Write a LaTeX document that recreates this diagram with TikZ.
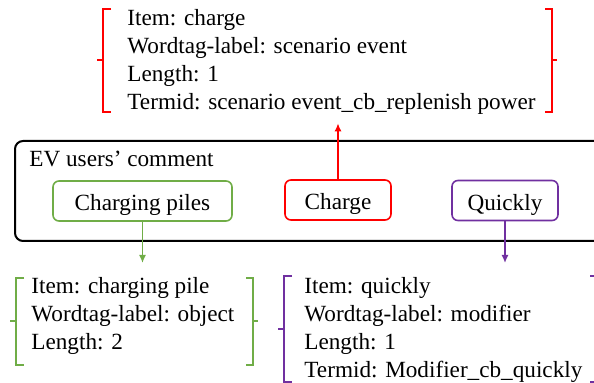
\documentclass[tikz,border=0pt]{standalone}
\usepackage{fontspec}
\setmainfont{Liberation Serif}
\usetikzlibrary{arrows.meta,positioning,calc}
\definecolor{tagred}{HTML}{FF0000}
\definecolor{taggreen}{HTML}{70AD47}
\definecolor{tagpurple}{HTML}{7030A0}
% square brackets round a term entry: colour, left x, right x, top y, bottom y
\newcommand{\infobrackets}[5]{%
  \draw[brk,#1] (#2+8,#4) -- (#2,#4) -- (#2,#5) -- (#2+8,#5)
    (#2,{(#4+#5)/2}) -- (#2-6,{(#4+#5)/2});
  \draw[brk,#1] (#3-7,#4) -- (#3,#4) -- (#3,#5) -- (#3-7,#5)
    (#3,{(#4+#5)/2}) -- (#3+5,{(#4+#5)/2});
}

\begin{document}
\begin{tikzpicture}[
  x=0.5pt, y=-0.5pt,
  txt/.style={font=\fontsize{11.6}{14}\selectfont, inner sep=0pt},
  info/.style={txt, align=left, anchor=north west},
  word/.style={txt, draw, text=black, rounded corners=3pt, line width=0.8pt,
               minimum height=20pt, text height=10pt, text depth=0pt},
  brk/.style={line width=1pt},
  arr/.style={-{Latex[length=4pt,width=3.5pt]}, line width=0.75pt}
]
  \useasboundingbox (0,0) rectangle (594,383);
  \clip (0,0) rectangle (594,383);

  % the comment and its words
  \node[draw, line width=1pt, rounded corners=4pt, anchor=north west,
        minimum width=303pt, minimum height=50pt] (comment) at (14,140) {};
  \node[txt, anchor=base west] (title) at (29,167) {EV users' comment};
  \node[word, draw=taggreen, minimum width=89.5pt] (pile) at (142.5,201) {Charging piles};
  \node[word, draw=tagred, minimum width=53pt] (charge) at (338,200) {Charge};
  \node[word, draw=tagpurple, minimum width=53pt] (quick) at (505,200.5) {Quickly};

  % term entries
  \node[info] (chargeinfo) at (127,9.5) {Item: charge\\Wordtag-label: scenario event\\Length: 1\\Termid: scenario event\_cb\_replenish power};
  \node[info] (pileinfo) at (31,277) {Item: charging pile\\Wordtag-label: object\\Length: 2};
  \node[info] (quickinfo) at (304,277) {Item: quickly\\Wordtag-label: modifier\\Length: 1\\Termid: Modifier\_cb\_quickly};

  \infobrackets{tagred}{103}{552}{9}{112}
  \infobrackets{taggreen}{16}{253}{278}{365}
  \infobrackets{tagpurple}{284}{597}{276}{382}

  \draw[arr, tagred, shorten >=4pt] (charge.north) -- (charge.north |- chargeinfo.south);
  \draw[arr, taggreen, shorten >=7pt] (pile.south) -- (pile.south |- pileinfo.north);
  \draw[arr, tagpurple, shorten >=7pt] (quick.south) -- (quick.south |- quickinfo.north);
\end{tikzpicture}
\end{document}
